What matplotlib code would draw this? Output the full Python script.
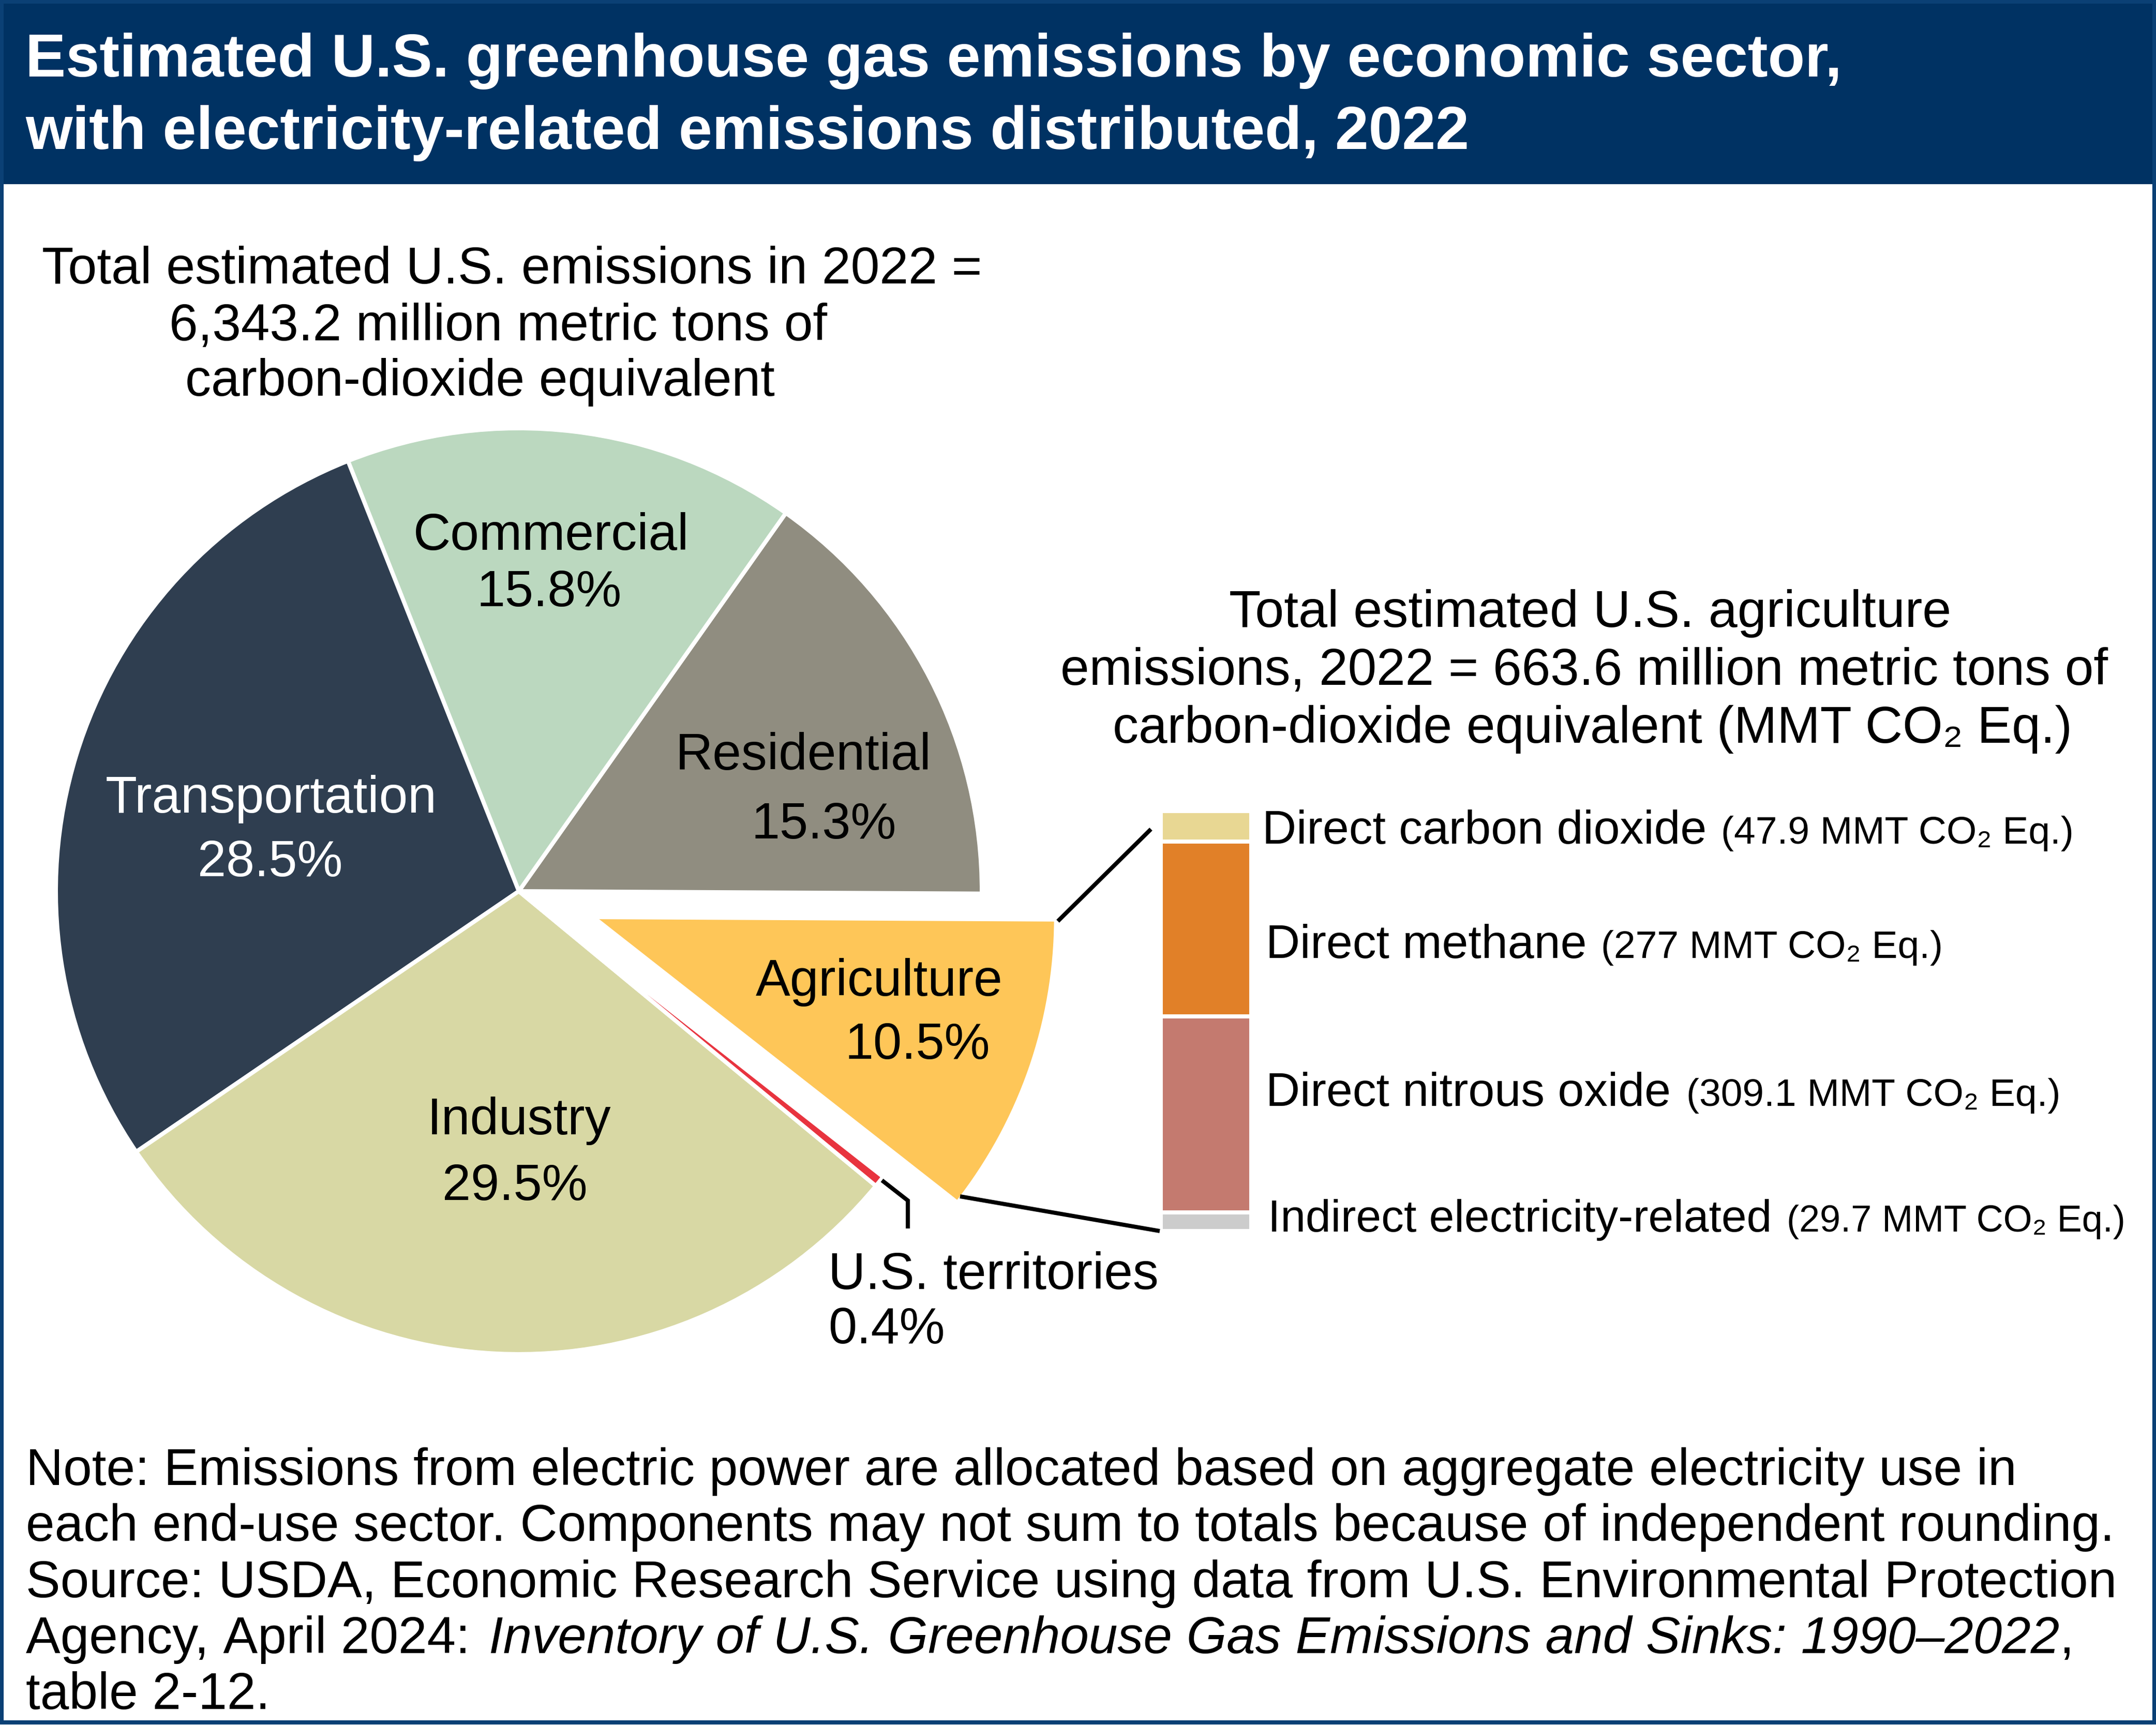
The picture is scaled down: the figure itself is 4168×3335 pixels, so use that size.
import matplotlib
matplotlib.use('Agg')
import matplotlib.pyplot as plt
import numpy as np
from matplotlib.patches import Rectangle

plt.rcParams['font.family'] = ['Liberation Sans', 'DejaVu Sans']

W, H = 4168, 3335
DPI = 300

# pie data
sectors = ['Residential', 'Commercial', 'Transportation', 'Industry', 'U.S. territories', 'Agriculture']
shares = [15.3, 15.8, 28.5, 29.5, 0.4, 10.5]
sector_colors = ['#908D80', '#BBD8BF', '#2F3E50', '#D8D8A4', '#E8343F', '#FEC658']
sector_text = ['black', 'black', 'white', 'black', 'black', 'black']
explode = [0, 0, 0, 0, 0, 0.17]

# stacked bar data, top to bottom
ag_gases = ['Direct carbon dioxide', 'Direct methane', 'Direct nitrous oxide', 'Indirect electricity-related']
ag_values = [47.9, 277, 309.1, 29.7]
ag_value_labels = ['47.9', '277', '309.1', '29.7']
ag_colors = ['#E8D793', '#E18028', '#C47A6F', '#CCCCCC']

title_lines = ['Estimated U.S. greenhouse gas emissions by economic sector,',
               'with electricity-related emissions distributed, 2022']
total_lines = ['Total estimated U.S. emissions in 2022 =',
               '6,343.2 million metric tons of',
               'carbon-dioxide equivalent']
ag_lines = ['Total estimated U.S. agriculture',
            'emissions, 2022 = 663.6 million metric tons of',
            'carbon-dioxide equivalent (MMT CO\u2082 Eq.)']
note_lines = ['Note: Emissions from electric power are allocated based on aggregate electricity use in',
              'each end-use sector. Components may not sum to totals because of independent rounding.',
              'Source: USDA, Economic Research Service using data from U.S. Environmental Protection']

NAVY = '#003263'
BORDER = '#0B4075'


def pt(px):
    return px * 72 / DPI


def axes_px(left, top, right, bottom):
    return fig.add_axes([left / W, 1 - bottom / H, (right - left) / W, (bottom - top) / H])


fig = plt.figure(figsize=((W + 0.01) / DPI, (H + 0.01) / DPI), dpi=DPI, facecolor='white')

# pie, center and radius in image pixels
half = 895 * 1.25
ax_pie = axes_px(1003 - half, 1723 - half, 1003 + half, 1723 + half)
wedges, _ = ax_pie.pie(shares, colors=sector_colors, explode=explode, startangle=-0.3, radius=1,
                       wedgeprops={'edgecolor': 'white', 'linewidth': pt(8)})
ax_pie.set_xlim(-1.25, 1.25)
ax_pie.set_ylim(-1.25, 1.25)
ax_pie.axis('off')
for w in wedges:
    w.set_clip_on(False)

# stacked bar
ax_bar = axes_px(2244, 1568, 2419, 2380)
bottom = 0
for val, col in zip(ag_values, ag_colors):
    ax_bar.bar(0, val, bottom=bottom, width=1, color=col, edgecolor='white', linewidth=pt(8))
    bottom += val
ax_bar.set_xlim(-0.5, 0.5)
ax_bar.set_ylim(sum(ag_values), 0)
ax_bar.axis('off')

# overlay in image pixels for frame, text and leader lines
ov = fig.add_axes([0, 0, 1, 1], facecolor='none')
ov.set_xlim(0, W)
ov.set_ylim(H, 0)
ov.axis('off')

ov.add_patch(Rectangle((0, 0), W, 356, facecolor=NAVY, edgecolor='none'))
ov.add_patch(Rectangle((3, 3), W - 6, H - 8, facecolor='none', edgecolor=BORDER, linewidth=pt(8)))


def txt(x, y, s, px=100, **kw):
    return ov.text(x, y, s, fontsize=pt(px), va='baseline', ha=kw.pop('ha', 'left'), **kw)


for y, s, px in zip([148, 288], title_lines, [117, 116.7]):
    txt(49, y, s, px=px, color='white', fontweight='bold')

for x, y, s, px in zip([81, 327, 358], [548, 658, 765], total_lines, [100.5, 100, 100]):
    txt(x, y, s, px=px)

for x, y, s, px in zip([2376, 2050, 2151], [1212, 1324, 1436], ag_lines, [100.5, 100, 100]):
    txt(x, y, s, px=px)

# pie labels: name position, share position
name_xy = [(1306, 1488), (799, 1063), (204, 1571), (826, 2193), (1601, 2492), (1461, 1925)]
share_xy = [(1452, 1621), (921, 1172), (382, 1694), (855, 2320), (1601, 2597), (1633, 2047)]
for name, share, col, nxy, sxy in zip(sectors, shares, sector_text, name_xy, share_xy):
    txt(nxy[0], nxy[1], name, color=col)
    txt(sxy[0], sxy[1], f'{share}%', px=99, color=col)

# bar labels
gas_xy = [(2440, 1631), (2447, 1852), (2447, 2138), (2451, 2381)]
val_x = [3327, 3095, 3260, 3454]
gas_px = [91.5, 91.5, 91.5, 87.5]
val_px = [75, 75, 75, 72]
for gas, lab, (x, y), vx, gp, vp in zip(ag_gases, ag_value_labels, gas_xy, val_x, gas_px, val_px):
    txt(x, y, gas, px=gp)
    txt(vx, y, f'({lab} MMT CO\u2082 Eq.)', px=vp)

# notes
for y, s in zip([2871, 2979, 3088], note_lines):
    txt(50, y, s, px=99.9)

# line with italic title, pieces placed one after another
fig.canvas.draw()
rend = fig.canvas.get_renderer()
x = 50
for s, style, gap in [('Agency, April 2024: ', 'normal', 8),
                      ('Inventory of U.S. Greenhouse Gas Emissions and Sinks: 1990\u20132022', 'italic', 0),
                      (',', 'normal', 0)]:
    t = txt(x, 3196, s.replace(' ', '\u00a0'), px=99.9, fontstyle=style)
    box = t.get_window_extent(rend)
    x = box.x1 * W / fig.bbox.width + gap
txt(50, 3304, 'table 2-12.', px=99.9)

# leader lines
for xs, ys in [([2045, 2225], [1781, 1603]),
               ([1856, 2242], [2313, 2380]),
               ([1705, 1755, 1755], [2282, 2321, 2375])]:
    ov.plot(xs, ys, color='black', linewidth=pt(8), solid_joinstyle='miter', solid_capstyle='butt')

fig.savefig('out.png', dpi=DPI)
